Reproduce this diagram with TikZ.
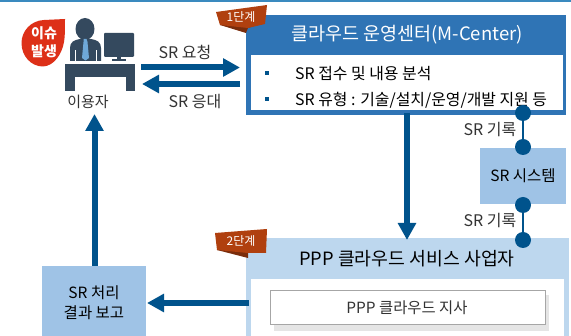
\documentclass[tikz,border=0pt]{standalone}
\usepackage{fontspec}
\setmainfont{Noto Sans CJK KR}
\usetikzlibrary{arrows.meta,calc}
\definecolor{arrowblue}{HTML}{00538C}
\definecolor{mcblue}{HTML}{2F74B5}
\definecolor{midblue}{HTML}{9FC3E6}
\definecolor{paleblue}{HTML}{BDD7EE}
\definecolor{badgered}{HTML}{B0400F}
\definecolor{badgedark}{HTML}{7A2D0C}
\definecolor{deskgray}{HTML}{34495E}
\definecolor{issuered}{HTML}{DD3018}
\definecolor{tieblue}{HTML}{6FA8D8}
\definecolor{topline}{HTML}{3A8ABF}
\definecolor{txtgray}{HTML}{333333}
\tikzset{
  boxnode/.style={inner sep=0pt,outer sep=0pt,anchor=north west},
  lab/.style={font=\fontsize{16}{18}\selectfont,text=txtgray,inner sep=0pt},
  darklab/.style={font=\fontsize{16}{18}\selectfont,text=black,inner sep=0pt},
  bigarrow/.style={draw=arrowblue,line width=6pt,-{Triangle[length=17pt,width=17.5pt,color=arrowblue]}},
  dotnode/.style={circle,fill=arrowblue,minimum size=16pt,inner sep=0pt,outer sep=0pt},
  dotlink/.style={draw=arrowblue,line width=2.6pt},
  bullet/.style={fill=arrowblue,minimum size=4.6pt,inner sep=0pt},
  badgetxt/.style={font=\fontsize{12}{14}\selectfont,text=white,inner sep=0pt},
}
\begin{document}
\begin{tikzpicture}[x=1pt,y=-1pt]
\useasboundingbox (0,0) rectangle (571,336);
\fill[white] (0,0) rectangle (571,336);
\fill[topline] (0,0) rectangle (571,1.6);

% PPP box
\node[boxnode,fill=paleblue,minimum width=323pt,minimum height=98pt] (ppp) at (246,238) {};
\fill[white] (251,279) rectangle (564,336);
\node[darklab,font=\fontsize{18.300}{20}\selectfont] (ppptitle) at (407,259) {PPP 클라우드 서비스 사업자};
\fill[black!10] (274,295) rectangle (549,331);
\node[boxnode,fill=white,draw=black!35,line width=1pt,minimum width=275pt,minimum height=34pt] (branch) at (270,291) {};
\node[lab,font=\fontsize{15.400}{17}\selectfont] (branchtxt) at (407,308) {PPP 클라우드 지사};

% M-Center
\node[boxnode,fill=mcblue,minimum width=320pt,minimum height=100pt] (mc) at (246,15) {};
\fill[white] (251,55) rectangle (563,110);
\node[font=\fontsize{18.500}{20}\selectfont,text=white,inner sep=0pt] (mctitle) at (407,35) {클라우드 운영센터(M-Center)};
\node[bullet] (b1) at (267,73) {};
\node[bullet] (b2) at (267,99) {};
\node[darklab,anchor=west,font=\fontsize{15.900}{18}\selectfont] (t1) at (295,74) {SR 접수 및 내용 분석};
\node[darklab,anchor=west,font=\fontsize{15.900}{18}\selectfont] (t2) at (295,100) {SR 유형 : 기술/설치/운영/개발 지원 등};

% badges
\fill[badgedark] (246,22) -- (265,22) -- (248,28) -- (246,33) -- (220,25) -- cycle;
\fill[badgered] (216,12) -- (267,5) -- (265,24) -- (248,28) -- (220,25) -- cycle;
\node[badgetxt] (badge1) at (241,17) {1단계};
\fill[badgedark] (230,248) -- (248,250) -- (248,258) -- (217,250) -- cycle;
\fill[badgered] (215,233) -- (267,229) -- (266,253) -- (248,253) -- (217,250) -- cycle;
\node[badgetxt] (badge2) at (241,241.500) {2단계};

% SR system and report
\node[boxnode,fill=midblue,minimum width=86pt,minimum height=56pt] (sys) at (480,148) {};
\node[darklab,font=\fontsize{15.500}{18}\selectfont] (systxt) at (523,176) {SR 시스템};
\node[boxnode,fill=midblue,minimum width=104pt,minimum height=70pt] (report) at (42,266) {};
\node[darklab,font=\fontsize{15.500}{18}\selectfont] (rep1) at (94,293) {SR 처리};
\node[darklab,font=\fontsize{15.500}{18}\selectfont] (rep2) at (94,313) {결과 보고};

% user figure
\fill[deskgray] (85,29) ellipse (9.5 and 11);
\fill[deskgray] (70,61) -- (70,48) .. controls (70,42) and (74,40) .. (80,39) -- (91,39) .. controls (97,40) and (101,42) .. (101,48) -- (101,61) -- cycle;
\fill[white] (74.500,50) rectangle (75.500,61);
\fill[white] (95.500,50) rectangle (96.500,61);
\fill[tieblue] (83.500,39) -- (86.500,39) -- (87.500,42) -- (89,58) -- (85.500,60.500) -- (82,58) -- (83.500,42) -- cycle;
\fill[deskgray,rounded corners=1pt] (104,33) rectangle (134,57);
\fill[deskgray] (117,57) rectangle (121,59);
\fill[deskgray] (112,59.500) rectangle (126,61.500);
\fill[deskgray] (65,64) rectangle (135,91);
\fill[white] (75,77) rectangle (126,91);
\node[lab,font=\fontsize{15}{17}\selectfont] (user) at (88,102) {이용자};

% issue drop
\fill[issuered] (65,19) .. controls (65,30) and (65,36) .. (64,42) .. controls (62,54) and (54,66) .. (43,66.500) .. controls (31,66.500) and (21.500,56) .. (21.500,43) .. controls (21.500,31) and (31,20.500) .. (44,20) -- cycle;
\node[font=\bfseries\fontsize{14}{16}\selectfont,text=white,inner sep=0pt] (issue1) at (44,33) {이슈};
\node[font=\bfseries\fontsize{14}{16}\selectfont,text=white,inner sep=0pt] (issue2) at (44,51) {발생};

% request and response
\coordinate (reqa) at (141,67.500);
\coordinate (reqb) at (240,67.500);
\coordinate (resa) at (240,84);
\coordinate (resb) at (142,84);
\draw[bigarrow] (reqa) -- (reqb);
\draw[bigarrow] (resa) -- (resb);
\node[lab] (reqtxt) at (185,52) {SR 요청};
\node[lab] (restxt) at (195,102) {SR 응대};

% main arrows
\coordinate (uptip) at (94.500,114);
\draw[bigarrow] (report.north -| uptip) -- (uptip);
\coordinate (downa) at (407,113);
\coordinate (downb) at (407,240);
\draw[bigarrow] (downa) -- (downb);
\coordinate (lefta) at (249,303);
\coordinate (leftb) at (147,303);
\draw[bigarrow] (lefta) -- (leftb);

% dots
\node[dotnode] (d1) at (523,113) {};
\node[dotnode] (d2) at (523,147) {};
\node[dotnode] (d3) at (523,205) {};
\node[dotnode] (d4) at (523,240) {};
\draw[dotlink] (d1) -- (d2);
\draw[dotlink] (d3) -- (d4);
\node[lab] (rec1) at (490,130) {SR 기록};
\node[lab] (rec2) at (490,221) {SR 기록};
\end{tikzpicture}
\end{document}
